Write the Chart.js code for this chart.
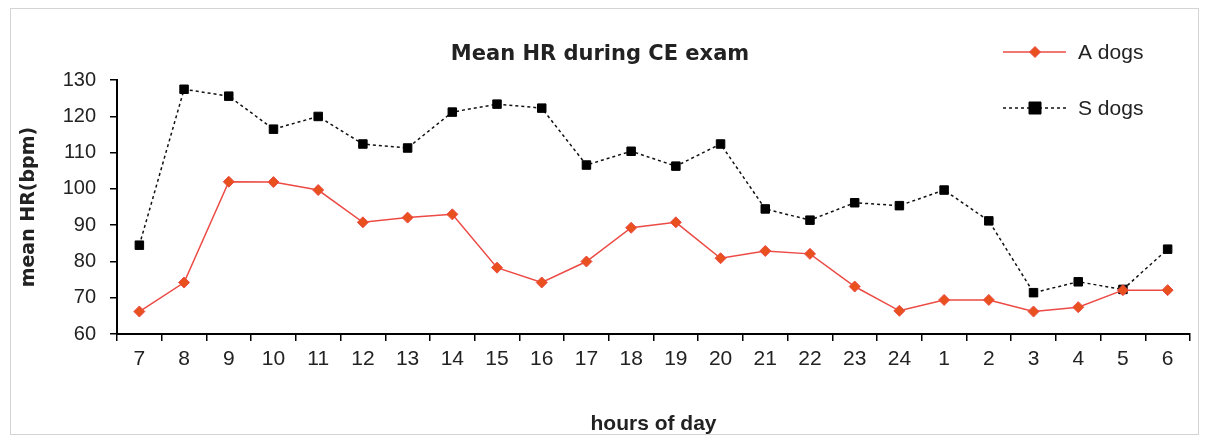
<!DOCTYPE html>
<html>
<head>
<meta charset="utf-8">
<script src="https://cdn.jsdelivr.net/npm/chart.js@4.4.0/dist/chart.umd.min.js"></script>
<style>
  html, body { margin: 0; padding: 0; background: #fff; }
  #wrap { width: 1209px; height: 441px; position: relative; }
</style>
</head>
<body>
<div id="wrap"><canvas id="hrChart"></canvas></div>
<script>
'use strict';

var hours = ['7', '8', '9', '10', '11', '12', '13', '14', '15', '16', '17', '18',
  '19', '20', '21', '22', '23', '24', '1', '2', '3', '4', '5', '6'];
var aDogs = [66.2, 74.2, 102, 101.9, 99.7, 90.8, 92.1, 93, 78.3, 74.2, 80, 89.3,
  90.8, 80.9, 82.9, 82.1, 73.1, 66.4, 69.4, 69.4, 66.2, 67.4, 72.1, 72.1];
var sDogs = [84.5, 127.5, 125.6, 116.5, 120, 112.4, 111.3, 121.2, 123.4, 122.3, 106.6, 110.4,
  106.3, 112.4, 94.5, 91.4, 96.2, 95.4, 99.7, 91.2, 71.4, 74.4, 72.3, 83.4];
var yTicks = [60, 70, 80, 90, 100, 110, 120, 130];

var redLine = '#ec4a44';
var redFill = '#e8501e';
var sans = '"Liberation Sans", Arial, sans-serif';

// frame round the whole picture + the legend on the right
var framePlugin = {
  id: 'frame',
  beforeDraw: function(chart) {
    var ctx = chart.ctx;
    ctx.save();
    ctx.fillStyle = '#fff';
    ctx.fillRect(0, 0, chart.width, chart.height);
    ctx.strokeStyle = '#d4d4d4';
    ctx.lineWidth = 1;
    ctx.strokeRect(10.5, 8.5, 1188, 426);
    ctx.restore();
  },
  afterDraw: function(chart) {
    var ctx = chart.ctx;
    var items = chart.data.datasets;
    ctx.save();
    for (var i = 0; i < items.length; i++) {
      var ds = items[i];
      var y = 52 + i * 56;
      ctx.strokeStyle = ds.borderColor;
      ctx.lineWidth = ds.borderWidth;
      ctx.setLineDash(ds.borderDash || []);
      ctx.beginPath();
      ctx.moveTo(1003, y);
      ctx.lineTo(1066, y);
      ctx.stroke();
      ctx.setLineDash([]);
      ctx.fillStyle = ds.pointBackgroundColor;
      ctx.strokeStyle = ds.pointBorderColor;
      ctx.lineWidth = 1;
      var r = ds.pointRadius;
      ctx.beginPath();
      if (ds.pointStyle === 'rectRot') {
        ctx.moveTo(1035, y - r);
        ctx.lineTo(1035 + r, y);
        ctx.lineTo(1035, y + r);
        ctx.lineTo(1035 - r, y);
        ctx.closePath();
      } else {
        ctx.rect(1035 - r, y - r, 2 * r, 2 * r);
      }
      ctx.fill();
      ctx.stroke();
      ctx.fillStyle = '#222';
      ctx.font = '21px ' + sans;
      ctx.textBaseline = 'middle';
      ctx.fillText(ds.label, 1078, y + 1);
    }
    ctx.restore();
  }
};

var ctxEl = document.getElementById('hrChart').getContext('2d');
var hrChart = new Chart(ctxEl, {
  type: 'line',
  data: {
    labels: hours,
    datasets: [{
      label: 'A dogs',
      data: aDogs,
      borderColor: redLine,
      borderWidth: 1.5,
      pointStyle: 'rectRot',
      pointRadius: 5.5,
      pointBackgroundColor: redFill,
      pointBorderColor: redLine,
      pointBorderWidth: 1,
      tension: 0
    }, {
      label: 'S dogs',
      data: sDogs,
      borderColor: '#111',
      borderWidth: 1.5,
      borderDash: [3, 3],
      pointStyle: 'rect',
      pointRadius: 6,
      pointBackgroundColor: '#000',
      pointBorderColor: '#000',
      pointBorderWidth: 1,
      tension: 0
    }]
  },
  options: {
    responsive: true,
    maintainAspectRatio: false,
    animation: false,
    layout: { padding: { left: 10, right: 19, top: 0, bottom: 4 } },
    plugins: {
      legend: { display: false },
      tooltip: { enabled: false },
      title: {
        display: true,
        text: 'Mean HR during CE exam',
        color: '#222',
        font: { family: '"DejaVu Sans", sans-serif', size: 21, weight: 'bold' },
        padding: { top: 42, bottom: 13 }
      }
    },
    scales: {
      x: {
        offset: true,
        afterFit: function(scale) { scale.height = 103; },
        grid: { display: true, drawOnChartArea: false, offset: true, tickLength: 7, color: '#000', lineWidth: 1.5 },
        border: { color: '#000', width: 2 },
        ticks: {
          color: '#222',
          padding: 6,
          maxRotation: 0,
          autoSkip: false,
          font: { family: sans, size: 21 }
        },
        title: {
          display: true,
          text: 'hours of day',
          color: '#222',
          font: { family: sans, size: 21, weight: 'bold' },
          padding: { top: 0, bottom: 0 }
        }
      },
      y: {
        min: 60,
        max: 130,
        afterFit: function(scale) { scale.width = 107; },
        afterBuildTicks: function(axis) {
          axis.ticks = yTicks.map(function(v) { return { value: v }; });
        },
        grid: { display: true, drawOnChartArea: false, tickLength: 7, color: '#000', lineWidth: 1.5 },
        border: { color: '#000', width: 2 },
        ticks: {
          color: '#222',
          padding: 14,
          font: { family: sans, size: 20 }
        },
        title: {
          display: true,
          text: 'mean HR(bpm)',
          color: '#222',
          font: { family: '"DejaVu Sans", sans-serif', size: 19, weight: 'bold' },
          padding: { top: 8, bottom: 0 }
        }
      }
    }
  },
  plugins: [framePlugin]
});
</script>
</body>
</html>
